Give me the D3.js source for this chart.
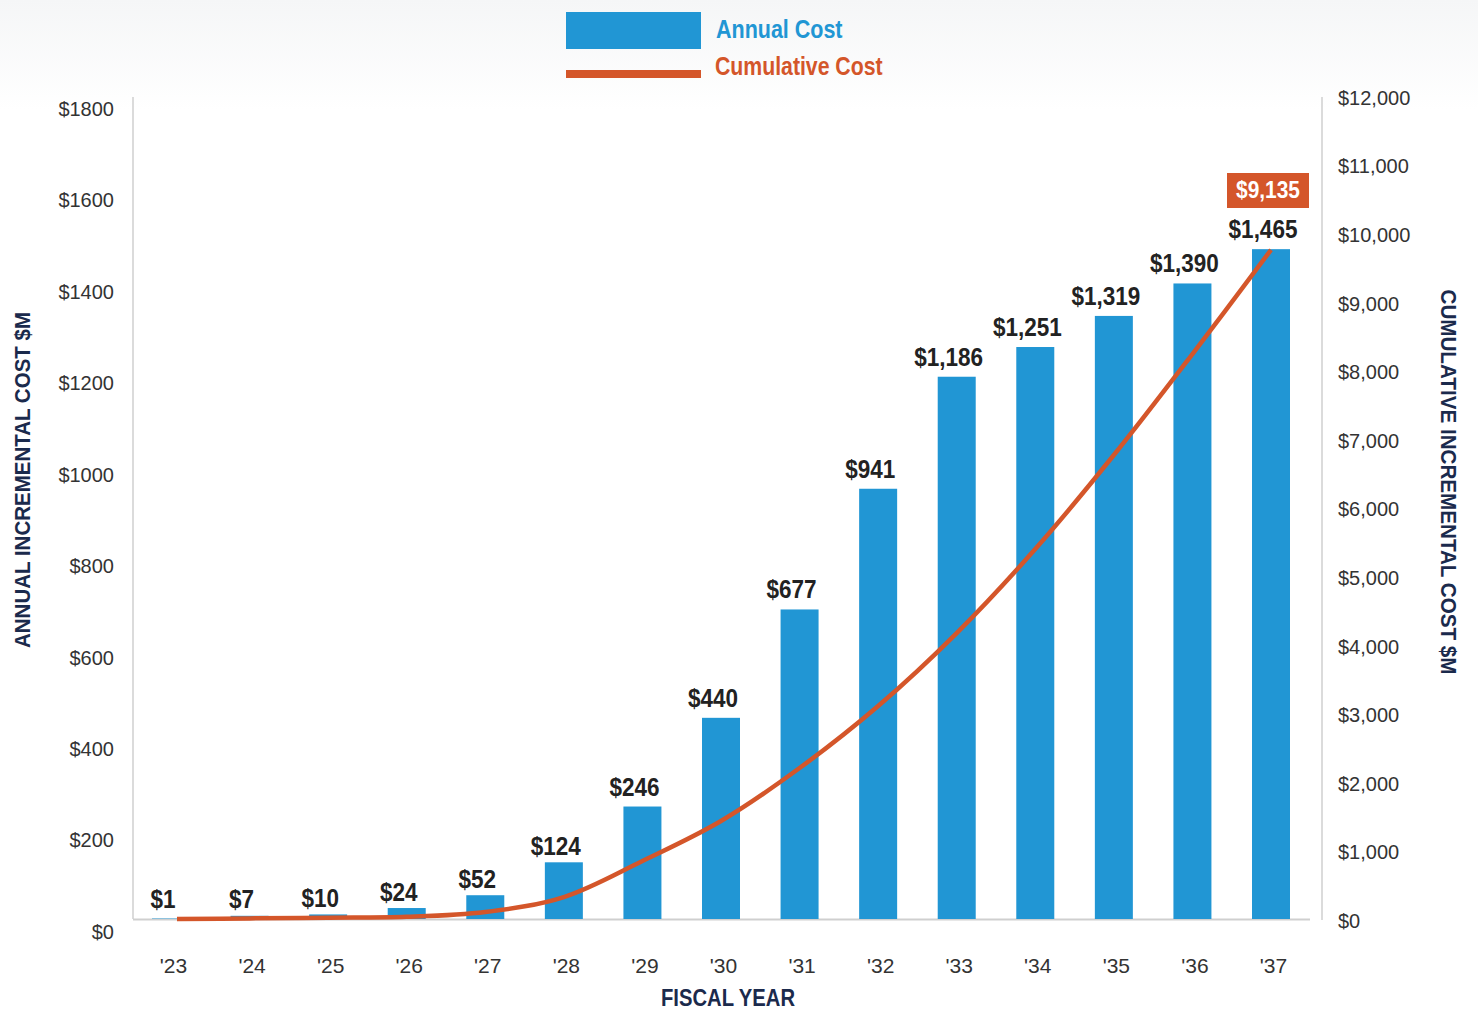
<!DOCTYPE html>
<html>
<head>
<meta charset="utf-8">
<script src="https://cdn.jsdelivr.net/npm/d3@7"></script>
<style>
  body { margin: 0; background: #ffffff; }
  svg { display: block; font-family: "Liberation Sans", Arial, Helvetica, sans-serif; }
</style>
</head>
<body>
<svg id="chart" width="1478" height="1011"></svg>
<script>
// Fiscal years on the x axis
const years = ["'23", "'24", "'25", "'26", "'27", "'28", "'29", "'30", "'31", "'32", "'33", "'34", "'35", "'36", "'37"];
// Annual incremental cost, $M (bars, left axis)
const annualCost = [1, 7, 10, 24, 52, 124, 246, 440, 677, 941, 1186, 1251, 1319, 1390, 1465];
// Cumulative incremental cost, $M (line)
const cumulativeCost = [1, 8, 18, 30, 96, 300, 792, 1338, 2061, 2908, 3904, 5051, 6334, 7713, 9135];
// Axis tick values
const leftTicks = [0, 200, 400, 600, 800, 1000, 1200, 1400, 1600, 1800];
const rightTicks = [0, 1000, 2000, 3000, 4000, 5000, 6000, 7000, 8000, 9000, 10000, 11000, 12000];

const BLUE = "#2196d4";
const ORANGE = "#d4562a";
const NAVY = "#1b2a4c";
const INK = "#222222";
const AXIS_TEXT = "#333333";
const RULE = "#cfcfcf";

const svg = d3.select("#chart");

// faint backdrop band across the top
const defs = svg.append("defs");
const grad = defs.append("linearGradient").attr("id", "topFade").attr("x1", 0).attr("y1", 0).attr("x2", 0).attr("y2", 1);
grad.append("stop").attr("offset", "0%").attr("stop-color", "#f5f6f7");
grad.append("stop").attr("offset", "100%").attr("stop-color", "#ffffff");
svg.append("rect").attr("x", 0).attr("y", 0).attr("width", 1478).attr("height", 110).attr("fill", "url(#topFade)");

// Scales
const x = d3.scalePoint().domain(years).range([171, 1271]);
const barWidth = 38;
const yBar = d3.scaleLinear().domain([0, 1800]).range([919, 96]);
const yRight = d3.scaleLinear().domain([0, 12000]).range([921, 98]);
const yLine = d3.scaleLinear().domain([0, 12000]).range([919, 40]);

const fmt = d3.format(",");

// Left axis
const leftAxis = svg.append("g")
  .attr("transform", "translate(133,0)")
  .call(d3.axisLeft(yBar).tickValues(leftTicks).tickSize(0).tickPadding(19).tickFormat(d => "$" + d));
leftAxis.select(".domain").remove();
leftAxis.selectAll("text")
  .attr("y", 13)
  .attr("fill", AXIS_TEXT)
  .style("font-size", "20px")
  .style("font-family", "'Liberation Sans', Arial, sans-serif");
svg.append("line").attr("x1", 133).attr("x2", 133).attr("y1", 97).attr("y2", 919)
  .attr("stroke", RULE).attr("stroke-width", 1.5);

// Right axis
const rightAxis = svg.append("g")
  .attr("transform", "translate(1322,0)")
  .call(d3.axisRight(yRight).tickValues(rightTicks).tickSize(0).tickPadding(16).tickFormat(d => "$" + fmt(d)));
rightAxis.select(".domain").remove();
rightAxis.selectAll("text")
  .attr("fill", AXIS_TEXT)
  .style("font-size", "20px")
  .style("font-family", "'Liberation Sans', Arial, sans-serif");
svg.append("line").attr("x1", 1322).attr("x2", 1322).attr("y1", 97).attr("y2", 920)
  .attr("stroke", RULE).attr("stroke-width", 1.5);

// Baseline
svg.append("line").attr("x1", 133).attr("x2", 1310).attr("y1", 919.5).attr("y2", 919.5)
  .attr("stroke", RULE).attr("stroke-width", 2);

// X axis labels
const bottomAxis = svg.append("g")
  .attr("transform", "translate(0,919)")
  .call(d3.axisBottom(x).tickSize(0).tickPadding(0));
bottomAxis.select(".domain").remove();
bottomAxis.selectAll("text")
  .attr("y", 54)
  .attr("dy", 0)
  .attr("dx", 2)
  .attr("fill", AXIS_TEXT)
  .style("font-size", "21px")
  .style("font-family", "'Liberation Sans', Arial, sans-serif");

// Bars
svg.append("g").selectAll("rect")
  .data(annualCost)
  .join("rect")
  .attr("x", (d, i) => x(years[i]) - barWidth / 2)
  .attr("y", d => yBar(d))
  .attr("width", barWidth)
  .attr("height", d => yBar(0) - yBar(d))
  .attr("fill", BLUE);

// Bar value labels (condensed bold)
svg.append("g").selectAll("g")
  .data(annualCost)
  .join("g")
  .attr("transform", (d, i) => {
    const gap = d < 200 ? 7 : 11;
    return `translate(${x(years[i]) - 8},${Math.min(yBar(d) - gap, 908)}) scale(0.9,1)`;
  })
  .append("text")
  .attr("text-anchor", "middle")
  .attr("fill", INK)
  .style("font-size", "25px")
  .style("font-weight", "bold")
  .text(d => "$" + fmt(d));

// Cumulative line
const line = d3.line()
  .x((d, i) => x(years[i]) + (i === 0 ? 6 : 0))
  .y(d => yLine(d))
  .curve(d3.curveCatmullRom.alpha(0.5));
svg.append("path")
  .datum(cumulativeCost)
  .attr("d", line)
  .attr("fill", "none")
  .attr("stroke", ORANGE)
  .attr("stroke-width", 4.5)
  .attr("stroke-linecap", "butt");

// Cumulative total tag
const lastIdx = cumulativeCost.length - 1;
const tagX = x(years[lastIdx]) - 3;
svg.append("rect")
  .attr("x", tagX - 41).attr("y", 173).attr("width", 82).attr("height", 35)
  .attr("fill", ORANGE);
svg.append("g")
  .attr("transform", `translate(${tagX},198) scale(0.87,1)`)
  .append("text")
  .attr("text-anchor", "middle")
  .attr("fill", "#ffffff")
  .style("font-size", "24px")
  .style("font-weight", "bold")
  .text("$" + fmt(cumulativeCost[lastIdx]));

// Legend
svg.append("rect").attr("x", 566).attr("y", 12).attr("width", 135).attr("height", 37).attr("fill", BLUE);
svg.append("rect").attr("x", 566).attr("y", 70).attr("width", 135).attr("height", 8).attr("fill", ORANGE);
svg.append("g").attr("transform", "translate(716,38) scale(0.86,1)")
  .append("text").attr("fill", BLUE).style("font-size", "25px").style("font-weight", "bold").text("Annual Cost");
svg.append("g").attr("transform", "translate(715,75) scale(0.85,1)")
  .append("text").attr("fill", ORANGE).style("font-size", "25px").style("font-weight", "bold").text("Cumulative Cost");

// Axis titles
svg.append("text")
  .attr("transform", "translate(30,480) rotate(-90)")
  .attr("text-anchor", "middle")
  .attr("fill", NAVY)
  .attr("textLength", 336)
  .attr("lengthAdjust", "spacingAndGlyphs")
  .style("font-size", "22px")
  .style("font-weight", "bold")
  .text("ANNUAL INCREMENTAL COST $M");

svg.append("text")
  .attr("transform", "translate(1441,482) rotate(90)")
  .attr("text-anchor", "middle")
  .attr("fill", NAVY)
  .attr("textLength", 385)
  .attr("lengthAdjust", "spacingAndGlyphs")
  .style("font-size", "22px")
  .style("font-weight", "bold")
  .text("CUMULATIVE INCREMENTAL COST $M");

svg.append("text")
  .attr("x", 728).attr("y", 1006)
  .attr("text-anchor", "middle")
  .attr("fill", NAVY)
  .attr("textLength", 134)
  .attr("lengthAdjust", "spacingAndGlyphs")
  .style("font-size", "24px")
  .style("font-weight", "bold")
  .text("FISCAL YEAR");
</script>
</body>
</html>
